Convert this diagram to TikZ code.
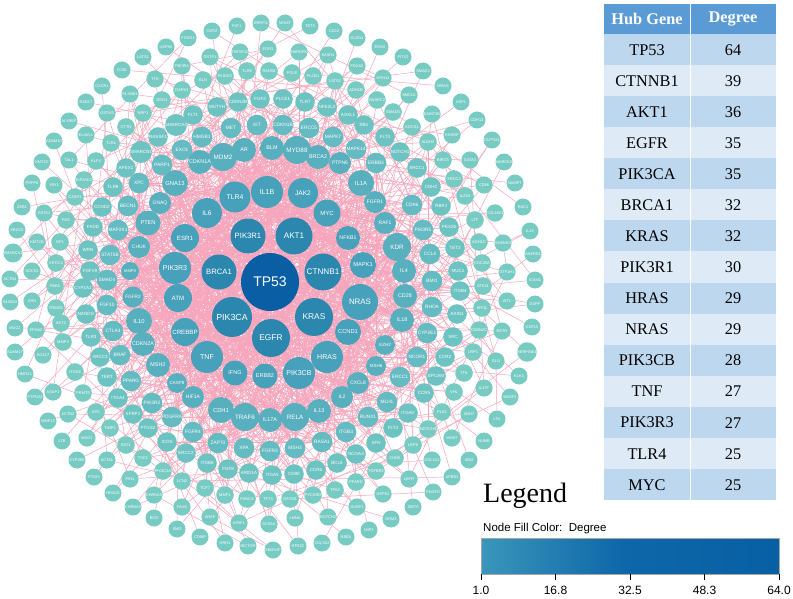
\documentclass[tikz,border=0pt]{standalone}
\usepackage{fontspec}
\setmainfont{Liberation Serif}
\setsansfont{Liberation Sans}
\newfontfamily\timesf{Liberation Serif}
\pgfdeclarelayer{bglayer}
\pgfdeclarelayer{edgelayer}
\pgfsetlayers{bglayer,edgelayer,main}
\definecolor{tpc}{RGB}{10,94,164}
\definecolor{ac}{RGB}{44,135,174}
\definecolor{bc}{RGB}{72,161,186}
\definecolor{cc}{RGB}{88,175,190}
\definecolor{dc}{RGB}{100,187,193}
\definecolor{ec}{RGB}{109,195,194}
\definecolor{fc}{RGB}{119,203,195}
\definecolor{edgec}{RGB}{246,166,188}
\definecolor{hdr}{RGB}{91,155,213}
\definecolor{rowa}{RGB}{189,215,238}
\definecolor{rowb}{RGB}{222,235,247}
\definecolor{lg1}{RGB}{58,150,186}
\definecolor{lg2}{RGB}{14,103,168}
\definecolor{lg3}{RGB}{8,96,164}
\tikzset{
  gn/.style={circle, inner sep=0pt, text=white},
  edge/.style={draw=edgec, line width=0.5pt},
  tabtxt/.style={inner sep=0pt, font=\timesf\fontsize{16.3}{16.3}\selectfont, text=black},
  tabhdr/.style={inner sep=0pt, font=\timesf\bfseries\fontsize{16.3}{16.3}\selectfont, text=white},
  ticklbl/.style={inner sep=0pt, font=\sffamily\fontsize{12}{12}\selectfont},
}
\begin{document}
\begin{tikzpicture}[x=1pt,y=-1pt]
\useasboundingbox (0,0) rectangle (793,599);
\begin{pgfonlayer}{bglayer}
\fill[white] (0,0) rectangle (793,599);
\end{pgfonlayer}
% ---------- centre
\node[gn, fill=tpc, minimum size=58pt, font=\sffamily\fontsize{14}{14}\selectfont] (v0) at (270,282) {TP53};
% ---------- ring A
\foreach \x/\y/\r/\t [count=\k from 1] in {294/236/18.5/AKT1, 323/272/18.5/CTNNB1, 314/317/19/KRAS, 271/338/19/EGFR, 232/317/20/PIK3CA, 219/272/17.5/BRCA1, 248/236/17.5/PIK3R1}{
  \pgfmathsetmacro{\fs}{0.44*\r}
  \node[gn, fill=ac, minimum size=2*\r pt, font=\sffamily\fontsize{\fs}{\fs}\selectfont] (v\k) at (\x,\y) {\t};
}
% ---------- ring B
\foreach \x/\y/\r/\t [count=\k from 8] in {267/192/16/IL1B, 303/193/15/JAK2, 327/213/13.5/MYC, 348/238/12/NFKB1, 363/265/13/MAPK1, 360/302/18/NRAS, 348/332/13/CCND1, 327/357/16/HRAS, 299/373/16/PIK3CB, 265/376/12.5/ERBB2, 235/373/12.5/IFNG, 207/357/16/TNF, 185/332/14/CREBBP, 178/298/14/ATM, 175/268/16/PIK3R3, 185/238/14/ESR1, 207/213/15/IL6, 235/197/15.5/TLR4}{
  \pgfmathsetmacro{\fs}{0.44*\r}
  \node[gn, fill=bc, minimum size=2*\r pt, font=\sffamily\fontsize{\fs}{\fs}\selectfont] (v\k) at (\x,\y) {\t};
}
% ---------- ring C
\foreach \x/\y/\r/\t [count=\k from 26] in {223/157/14/MDM2, 244/150/12/AR, 272/148/12/BLM, 297/150/14/MYD88, 318/157/12/BRCA2, 340/163/11/PTPN6, 361/183/13/IL1A, 375/202/11/FGFR1, 385/223/11/RAF1, 397/247/14/KDR, 404/271/12/IL4, 405/296/12/CD28, 402/320/12/IL18, 385/345/10/EZH2, 376/366/10/MSH6, 358/383/11/CXCL8, 342/397/11/IL2, 319/411/12/IL13, 295/417/14/RELA, 270/420/12/IL17A, 245/417/14/TRAF6, 221/410/13/CDH1, 193/397/11/HIF1A, 177/383/10/CASP8, 158/365/12/MSH2, 143/344/12/CDKN2A, 139/321/13/IL10, 133/297/10.5/FGFR2, 130/271/9/MMP9, 139/247/11/CHUK, 148/223/12.5/PTEN, 160/203/11/GNAQ, 175/183/13/GNA13, 200/162/12/CDKN1A}{
  \pgfmathsetmacro{\fs}{0.45*\r}
  \node[gn, fill=cc, minimum size=2*\r pt, font=\sffamily\fontsize{\fs}{\fs}\selectfont] (v\k) at (\x,\y) {\t};
  \xdef\lastC{\k}
}
% ---------- ring D
\foreach \x/\y/\t [count=\k from 60] in {202/137/HMGB1, 231/128/MET, 257/125/KIT, 283/125/CDKN1B, 309/128/ERCC5, 333/137/MAPK7, 356/149/MAPK14, 376/163/ERBB3, 412/205/CDK6, 423/230/PIK3R5, 430/254/CCL4, 432/281/BMI1, 432/307/RHOA, 427/333/CYP2E1, 417/357/NCOR1, 400/377/ERCC1, 387/402/MLH1, 368/417/RUNX1, 346/432/ITGB3, 322/442/RASA1, 295/448/MSH3, 270/451/FGFR3, 244/448/XPA, 218/443/ZAP70, 193/432/FGFR4, 172/417/PDGFRA, 152/403/PIK3R2, 131/381/PPARG, 120/355/BRAF, 113/331/CTLA4, 107/305/FGF10, 107/280/SMAD4, 110/255/STAT5B, 118/230/MAP2K1, 128/206/BECN1, 139/183/XPC, 162/165/PARP1, 182/150/EXO1}{
  \node[gn, fill=dc, minimum size=20.6pt, font=\sffamily\fontsize{4.8}{4.8}\selectfont] (v\k) at (\x,\y) {\t};
  \xdef\lastD{\k}
}
% ---------- ring E
\foreach \x/\y/\t [count=\k from 98] in {260/99/FGF2, 283/99/PLCE1, 305/102/TLR7, 327/107/NFE2L2, 348/115/ASXL1, 364/125/RB1, 385/137/FLT3, 400/152/NOTCH1, 417/168/XRCC1, 431/187/CDH2, 441/206/RBPJ, 449/227/PEX26, 455/248/TET2, 458/271/MUC1, 460/291/ITGB4, 457/314/AXIN1, 453/337/SRC, 445/357/CCR2, 436/376/EPCAM, 424/393/CCR5, 408/413/ITGAV, 393/428/FLT4, 376/443/SFN, 356/454/NCOA3, 337/463/BCL6, 316/470/CCR6, 294/474/CD80, 272/475/ITGA5, 249/473/ARID1A, 228/469/FGF8, 207/463/ITGB8, 186/453/ERCC2, 167/442/ICOS, 148/428/PTGS2, 133/414/SFRP1, 118/398/ITGA4, 107/377/TERT, 100/357/XRCC3, 91/337/TLR3, 86/314/NANOG, 83/288/CYP1A1, 90/271/FGF19, 88/250/WRN, 93/227/FADD, 102/207/CCND2, 113/187/TLR9, 126/168/APEX1, 141/152/SMARCB1, 158/137/RASSF1, 176/125/SMARCA4, 193/115/FLT1, 217/107/MUTYH, 238/102/CDKN2B}{
  \node[gn, fill=ec, minimum size=19.6pt, font=\sffamily\fontsize{4.5}{4.5}\selectfont] (v\k) at (\x,\y) {\t};
  \xdef\lastE{\k}
}
% ---------- ring F
\foreach \x/\y/\t [count=\k from 151] in {269/71/RAD50, 292/73/POLE, 313/76/PLCB1, 335/81/LATS2, 356/90/ADH1B, 377/100/ANAPC2, 393/112/SMAD3, 412/127/SOCS1, 428/142/ALDH2, 443/160/BIRC5, 454/179/XRCC2, 465/196/IL23A, 475/220/LTF, 479/242/ADH1C, 482/263/CDC25A, 483/286/STK11, 482/308/KIF11, 479/330/CDKN2C, 473/352/LRP1, 464/373/TTK, 454/392/VHL, 442/412/PLK1, 428/429/NOTCH3, 413/445/LRP5, 395/458/CHD5, 376/471/TGFBR2, 356/482/PPARD, 335/490/TP63, 313/495/PYCARD, 290/499/GSTM1, 268/499/TP73, 247/499/FANCA, 225/495/MMP1, 205/488/TCF7, 182/481/LCN2, 163/471/PIK3C2A, 143/458/TSC1, 126/445/IDO1, 110/428/TIMP2, 96/412/APC, 83/393/PRMT5, 75/372/ITGA6, 63/342/MMP3, 61/323/AKT2, 56/308/TRIM21, 55/286/PAK4, 56/263/XRCC4, 60/242/NF1, 66/220/FAS, 75/197/CASP3, 84/180/EIF2AK2, 96/161/KLF4, 111/143/TLR1, 126/127/CTTN, 143/113/NRP1, 162/100/DSG1, 182/90/DAPK1, 203/80/ELN, 225/76/RUNX3, 247/71/TLR8}{
  \node[gn, fill=fc, minimum size=17.6pt, font=\sffamily\fontsize{4}{4}\selectfont] (v\k) at (\x,\y) {\t};
  \xdef\lastF{\k}
}
% ---------- ring G
\foreach \x/\y/\t [count=\k from 211] in {268/49/EGR1, 299/52/HNRNPK, 328/55/SASH1, 357/66/FOXA2, 383/78/MYH11, 409/95/SMC1A, 432/114/DNMT3B, 452/135/KHSRP, 470/160/GATA3, 484/185/CD86, 495/213/COL18A1, 503/243/SHANK3, 507/272/GTF2H1, 507/301/WT1, 502/331/RETN, 496/361/GLI1, 484/388/IL17F, 469/414/ADH7, 452/438/MKI67, 432/460/COL1A1, 409/479/LEPR, 383/494/DEFB1, 357/507/DUSP1, 328/517/NOTCH2, 295/518/LMNA, 269/524/SCN5A, 239/523/APAF1, 210/517/ARAF, 182/507/PAX6, 154/495/CHRNA5, 130/479/PIN1, 107/460/ACTA1, 87/438/MSG1, 68/414/ACTN2, 53/392/ASAP1, 43/355/SOX17, 36/330/EPHA2, 32/301/GSN, 32/271/SOCS3, 37/242/KMT2D, 44/213/GSTA1, 54/185/YBX1, 69/160/TAL1, 86/135/ELAVL1, 107/113/GSTM3, 130/94/PLXNB1, 155/79/TTN, 182/66/PIK3R4, 210/57/GSTP1, 240/52/TNFSF10}{
  \node[gn, fill=fc, minimum size=17.2pt, font=\sffamily\fontsize{3.9}{3.9}\selectfont] (v\k) at (\x,\y) {\t};
  \xdef\lastG{\k}
}
% ---------- ring H
\foreach \x/\y/\t [count=\k from 261] in {261/23/ERRFI1, 285/23/MGMT, 310/26/TET3, 334/31/CD22, 357/38/CLDN1, 380/47/ERAS, 403/57/PITX2, 423/71/SMAD2, 443/86/MRAS, 461/102/USP1, 477/120/CDH13, 492/140/CLPTM1, 504/162/MARCKS, 515/183/NAMPT, 523/207/RAC1, 530/231/IL16, 533/254/ANKRD1, 535/280/ICAM1, 535/304/DSPP, 532/327/GDF15, 527/352/SERPINE1, 519/376/KLK3, 510/397/WASF1, 497/419/LTA, 484/441/NUMB, 469/460/ABI2, 452/477/APBB1, 433/492/PDGFD, 413/507/SIRT6, 391/519/GRM3, 369/530/IMP3, 346/537/NBEA, 322/543/COL5A2, 298/546/HTR2C, 273/550/SEMA3F, 248/546/RICTOR, 225/543/HRH1, 200/537/COMP, 177/529/SMO, 154/518/BCR, 133/507/CHRNA3, 113/493/HDAC8, 94/477/PTGIS, 77/460/CYP2B6, 62/441/LTB, 48/421/MMP13, 35/397/PTPN22, 25/374/HMOX1, 15/352/ADAM17, 15/328/MUC2, 10/302/S100A4, 10/279/ACTN4, 13/253/SMARCA2, 17/230/XRCC5, 22/207/ZEB1, 32/183/PRPF8, 42/162/KMT2C, 54/141/ADAM10, 69/121/ALYREF, 86/102/RAD17, 102/86/CXCR1, 122/70/GSID, 143/57/LATS1, 166/47/USP9X, 188/38/FOXO1, 212/31/OSR2, 237/26/FAT1}{
  \node[gn, fill=fc, minimum size=17pt, font=\sffamily\fontsize{3.9}{3.9}\selectfont] (v\k) at (\x,\y) {\t};
  \xdef\lastH{\k}
}
% ---------- connectors
\begin{pgfonlayer}{edgelayer}
\pgfmathsetseed{11}
\foreach \j in {1,...,59} {\draw[edge] (v0) -- (v\j);}
\foreach \n in {1,...,6} {\pgfmathrandominteger{\j}{60}{\lastE}\draw[edge] (v0) -- (v\j);}
\foreach \i in {1,...,25} {
  \foreach \n in {1,...,18} {
    \pgfmathrandominteger{\j}{1}{\lastC}
    \ifnum\j=\i\relax\else\draw[edge] (v\i) -- (v\j);\fi
  }
}
\foreach \i in {26,...,\lastC} {
  \foreach \n in {1,...,9} {
    \pgfmathrandominteger{\j}{1}{\lastD}
    \ifnum\j=\i\relax\else\draw[edge] (v\i) -- (v\j);\fi
  }
}
\foreach \i in {60,...,\lastD} {
  \foreach \n in {1,...,5} {
    \pgfmathrandominteger{\j}{0}{\lastC}
    \draw[edge] (v\i) -- (v\j);
  }
  \pgfmathrandominteger{\j}{60}{\lastE}
  \ifnum\j=\i\relax\else\draw[edge] (v\i) -- (v\j);\fi
}
\foreach \i in {98,...,\lastE} {
  \foreach \n in {1,...,3} {
    \pgfmathrandominteger{\j}{0}{\lastD}
    \draw[edge] (v\i) -- (v\j);
  }
}
\foreach \i in {151,...,\lastF} {
  \pgfmathrandominteger{\j}{1}{\lastD}
  \draw[edge] (v\i) -- (v\j);
  \pgfmathrandominteger{\j}{98}{\lastF}
  \ifnum\j=\i\relax\else\draw[edge] (v\i) -- (v\j);\fi
}
\foreach \i in {211,...,\lastG} {
  \pgfmathrandominteger{\j}{1}{\lastE}
  \draw[edge] (v\i) -- (v\j);
  \pgfmathrandominteger{\j}{151}{\lastG}
  \ifnum\j=\i\relax\else\draw[edge] (v\i) -- (v\j);\fi
}
\foreach \i in {261,...,\lastH} {
  \pgfmathrandominteger{\j}{26}{\lastF}
  \draw[edge] (v\i) -- (v\j);
  \pgfmathrandominteger{\j}{0}{1}
  \ifnum\j=1\relax
    \pgfmathrandominteger{\j}{151}{\lastG}
    \draw[edge] (v\i) -- (v\j);
  \fi
}
\end{pgfonlayer}
% ---------- table
\fill[hdr] (604,4) rectangle (776,34);
\node[tabhdr] (th1) at (647,19) {Hub Gene};
\node[tabhdr] (th2) at (733,19) {Degree};
\foreach \g/\d [count=\k from 0] in {TP53/64, CTNNB1/39, AKT1/36, EGFR/35, PIK3CA/35, BRCA1/32, KRAS/32, PIK3R1/30, HRAS/29, NRAS/29, PIK3CB/28, TNF/27, PIK3R3/27, TLR4/25, MYC/25}{
  \pgfmathsetmacro{\ya}{34+31.07*\k}
  \pgfmathsetmacro{\yb}{\ya+31.07}
  \pgfmathsetmacro{\ym}{\ya+15.8}
  \ifodd\k\relax \fill[rowb] (604,\ya) rectangle (776,\yb);
  \else \fill[rowa] (604,\ya) rectangle (776,\yb); \fi
  \node[tabtxt] (tg\k) at (647,\ym) {\g};
  \node[tabtxt] (td\k) at (733,\ym) {\d};
}
\draw[white, line width=0.7pt] (690,4) -- (690,500);
% ---------- legend
\node[anchor=base west, inner sep=0pt, font=\timesf\fontsize{28}{28}\selectfont] (legtitle) at (483,502) {Legend};
\node[anchor=base west, inner sep=0pt, font=\sffamily\fontsize{11.5}{11.5}\selectfont] (legsub) at (483,531) {Node Fill Color:\ \ Degree};
\shade[left color=lg1, right color=lg2] (481,538) rectangle (622,574);
\shade[left color=lg2, right color=lg3] (621.5,538) rectangle (779,574);
\draw[gray!70, line width=0.4pt] (481,538) rectangle (779,574);
\foreach \x/\l [count=\k] in {481/1.0, 555.5/16.8, 630/32.5, 704.5/48.3, 779/64.0}{
  \draw[black, line width=0.8pt] (\x,574) -- (\x,580);
  \node[ticklbl] (tl\k) at (\x,590) {\l};
}
\end{tikzpicture}
\end{document}
